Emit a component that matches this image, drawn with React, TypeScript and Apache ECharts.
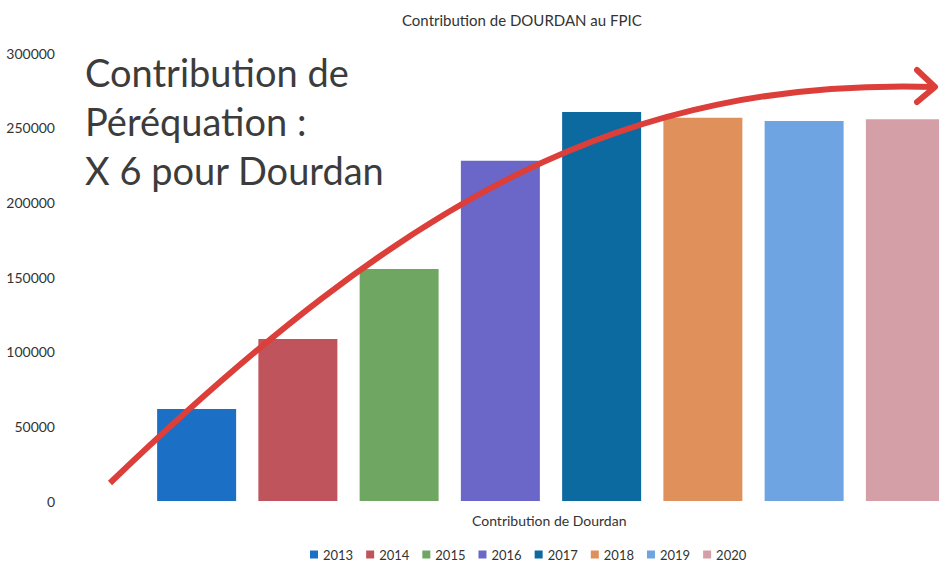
import React, { useEffect, useRef } from "react";
import * as echarts from "echarts";

const years = ["2013", "2014", "2015", "2016", "2017", "2018", "2019", "2020"];
const values = [61600, 108400, 155300, 227800, 260500, 256700, 254500, 255600];
const colors = ["#1b6fc4", "#c0545c", "#6fa762", "#6b67c9", "#0d6aa1", "#e0905a", "#6fa4e2", "#d59fa8"];
const yTicks = { min: 0, max: 300000, interval: 50000 };
const titleText = "Contribution de DOURDAN au FPIC";
const xName = "Contribution de Dourdan";
const bigLines = ["Contribution de", "Péréquation :", "X 6 pour Dourdan"];

export default function App() {
  const ref = useRef<HTMLDivElement>(null);
  useEffect(() => {
    if (!ref.current) return;
    const chart = echarts.init(ref.current, null, { renderer: "svg" });
    const series = years.map((y, i) => ({
      name: y,
      type: "bar",
      data: years.map((_, j) => (j === i ? values[i] : "-")),
      barWidth: 79,
      barGap: "-100%",
      itemStyle: { color: colors[i] },
    }));
    const font = "Lato, 'Open Sans', sans-serif";
    chart.setOption({
      animation: false,
      textStyle: { fontFamily: font },
      grid: { left: 146, width: 810, top: 53, bottom: 61, containLabel: false },
      xAxis: {
        type: "category",
        data: years,
        axisLine: { show: false },
        axisTick: { show: false },
        axisLabel: { show: false },
      },
      yAxis: {
        type: "value",
        min: yTicks.min,
        max: yTicks.max,
        interval: yTicks.interval,
        splitLine: { show: false },
        axisLine: { show: false },
        axisTick: { show: false },
        axisLabel: {
          margin: 91,
          fontSize: 14,
          color: "#333",
          fontFamily: font,
          formatter: (v: number) => String(v),
        },
      },
      legend: {
        data: years,
        left: 305,
        top: 543,
        icon: "rect",
        itemWidth: 8,
        itemHeight: 8,
        itemGap: 13,
        textStyle: { fontSize: 13, color: "#333", fontFamily: font },
      },
      series,
      graphic: [
        {
          type: "text",
          left: 402,
          top: 12,
          style: { text: titleText, fontSize: 15, fill: "#333", fontFamily: font },
        },
        {
          type: "text",
          left: 472,
          top: 513,
          style: { text: xName, fontSize: 14, fill: "#333", fontFamily: font },
        },
        ...bigLines.map((t, i) => ({
          type: "text",
          x: 85,
          y: 72 + i * 49,
          style: {
            text: t,
            fontSize: 38,
            fill: "#3c3c3c",
            fontFamily: font,
            textVerticalAlign: "middle",
            verticalAlign: "middle",
          },
          z: 10,
        })),
        {
          type: "bezierCurve",
          shape: { x1: 110, y1: 483, cpx1: 410, cpy1: 195, cpx2: 625, cpy2: 78, x2: 935, y2: 87 },
          style: { stroke: "#dc3f3a", lineWidth: 6, fill: null },
          z: 20,
        },
        {
          type: "polyline",
          shape: { points: [[917, 70], [935, 87], [917, 102]] },
          style: { stroke: "#dc3f3a", lineWidth: 6, fill: null, lineCap: "round", lineJoin: "round" },
          z: 20,
        },
      ],
    });
    return () => chart.dispose();
  }, []);
  return (
    <div style={{ position: "fixed", left: 0, top: 0, width: 939, height: 562, overflow: "hidden", background: "#fff" }}>
      <div ref={ref} style={{ width: 980, height: 562 }} />
    </div>
  );
}
